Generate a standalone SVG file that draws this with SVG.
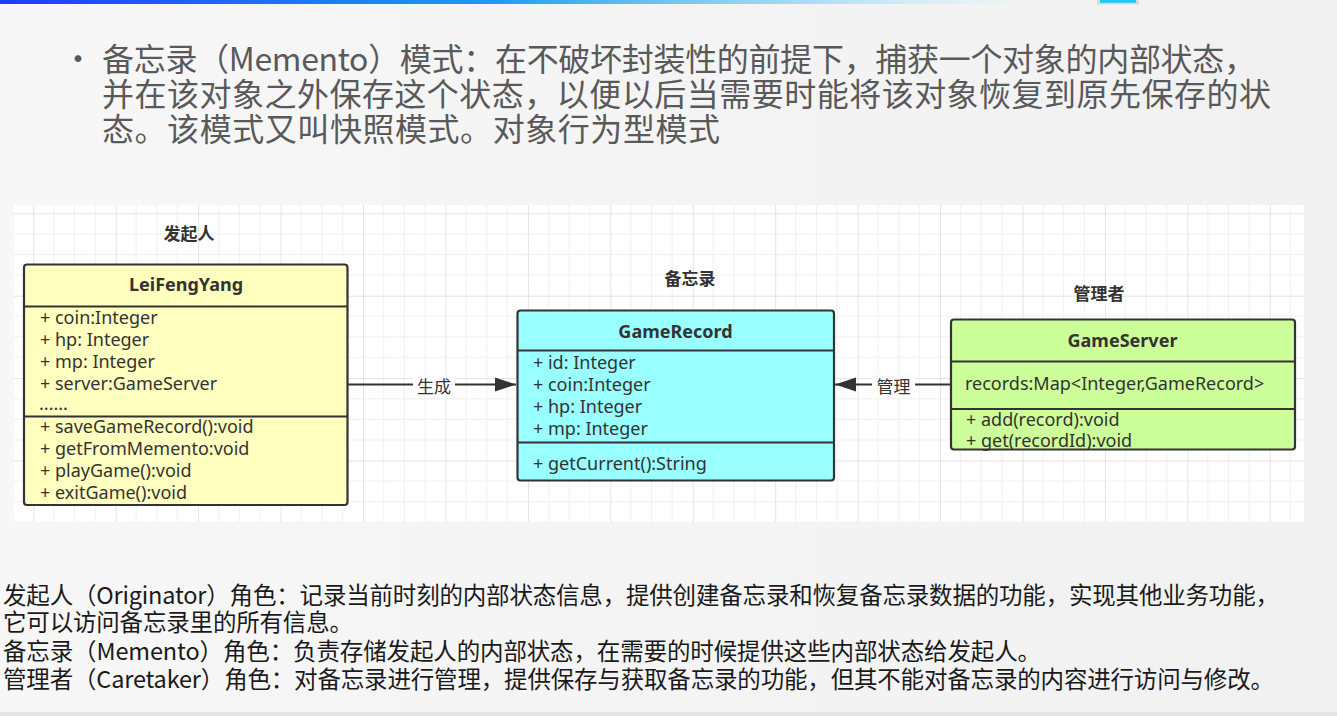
<svg xmlns="http://www.w3.org/2000/svg" width="1337" height="716" viewBox="0 0 1337 716">
<style>
.box{stroke:#333;stroke-width:2.2}
.div{stroke:#333;stroke-width:2.2}
.t{font-family:"Noto Sans","Liberation Sans",sans-serif;font-size:18px;fill:#333}
.title{font-weight:bold;text-anchor:middle}
.lbl{font-family:"Noto Sans CJK SC",sans-serif;font-size:17px;font-weight:bold;fill:#333;text-anchor:middle}
.edge{stroke:#333;stroke-width:2;fill:none}
.elbl{font-family:"Noto Sans CJK SC",sans-serif;font-size:17px;fill:#333;text-anchor:middle}
.head{font-family:"Noto Sans CJK SC",sans-serif;font-size:32px;fill:#595959}
.body{font-family:"Noto Sans CJK SC",sans-serif;font-size:23.5px;fill:#1a1a1a}
</style>
<defs>
<linearGradient id="bar" x1="0" y1="0" x2="1" y2="0">
<stop offset="0" stop-color="#1e3cff"/>
<stop offset="0.45" stop-color="#1c9cf0"/>
<stop offset="0.75" stop-color="#8fd8f5" stop-opacity="0.7"/>
<stop offset="1" stop-color="#ffffff" stop-opacity="0"/>
</linearGradient>
<linearGradient id="bg" x1="0" y1="0" x2="1" y2="0">
<stop offset="0" stop-color="#f7f7f7"/>
<stop offset="1" stop-color="#f1f1f1"/>
</linearGradient>
<pattern id="grid" x="33.3" y="213.3" width="82.43" height="82.4" patternUnits="userSpaceOnUse">
<path d="M20.6 0V82.4M41.2 0V82.4M61.8 0V82.4M0 20.6H82.43M0 41.2H82.43M0 61.8H82.43" stroke="#efefef" stroke-width="1"/>
<path d="M0.5 0V82.4M0 0.5H82.43" stroke="#e3e3e3" stroke-width="1"/>
</pattern>
<marker id="arr" markerUnits="userSpaceOnUse" markerWidth="22" markerHeight="16" refX="21" refY="7.5" orient="auto">
<path d="M0,0.5 L21,7.5 L0,14.5 z" fill="#333"/>
</marker>
</defs>

<rect x="0" y="0" width="1337" height="716" fill="url(#bg)"/>
<rect x="0" y="712" width="1337" height="4" fill="#e6e6e6"/>
<rect x="0" y="0" width="1100" height="4" fill="url(#bar)"/>
<rect x="1097" y="0" width="42" height="4.5" fill="#d9d9d9"/>
<rect x="1100" y="0" width="36" height="2.8" fill="#1ec8f5"/>

<g id="heading">
<text class="head" x="78" y="71" font-size="26" text-anchor="middle">•</text>
<text class="head"><tspan x="102" y="71" textLength="1154" lengthAdjust="spacing">备忘录（Memento）模式：在不破坏封装性的前提下，捕获一个对象的内部状态，</tspan><tspan x="102" y="106" textLength="1169" lengthAdjust="spacing">并在该对象之外保存这个状态，以便以后当需要时能将该对象恢复到原先保存的状</tspan><tspan x="102" y="141" textLength="618" lengthAdjust="spacing">态。该模式又叫快照模式。对象行为型模式</tspan></text>
</g>

<rect x="14" y="205" width="1290" height="317" fill="#ffffff"/>
<rect x="14" y="205" width="1290" height="317" fill="url(#grid)"/>

<g id="labels">
<text class="lbl" x="189" y="239.5">发起人</text>
<text class="lbl" x="690" y="284.5">备忘录</text>
<text class="lbl" x="1099" y="299.5">管理者</text>
</g>

<g id="connectors">
<line class="edge" x1="348" y1="384.5" x2="516" y2="384.5" marker-end="url(#arr)"/>
<rect x="413" y="375" width="42" height="21" fill="#ffffff"/>
<text class="elbl" x="434" y="392.5">生成</text>
<line class="edge" x1="950" y1="384.5" x2="835" y2="384.5" marker-end="url(#arr)"/>
<rect x="872" y="375" width="43" height="21" fill="#ffffff"/>
<text class="elbl" x="893.5" y="392.5">管理</text>
</g>

<g id="LeiFengYang">
<rect x="24" y="264.5" width="323.5" height="240.5" rx="3" fill="#ffffc0"/>
<text class="t title" x="186" y="291">LeiFengYang</text>
<text class="t" x="40" y="324">+ coin:Integer</text>
<text class="t" x="40" y="346">+ hp: Integer</text>
<text class="t" x="40" y="368">+ mp: Integer</text>
<text class="t" x="40" y="390">+ server:GameServer</text>
<text class="t" x="39" y="410">......</text>
<text class="t" x="40" y="433">+ saveGameRecord():void</text>
<text class="t" x="40" y="455">+ getFromMemento:void</text>
<text class="t" x="40" y="477">+ playGame():void</text>
<text class="t" x="40" y="499">+ exitGame():void</text>
<line class="div" x1="24" y1="306.5" x2="347.5" y2="306.5"/>
<line class="div" x1="24" y1="416.5" x2="347.5" y2="416.5"/>
<rect class="box" x="24" y="264.5" width="323.5" height="240.5" rx="3" fill="none"/>
</g>

<g id="GameRecord">
<rect x="517.5" y="310.5" width="316.5" height="170" rx="3" fill="#99ffff"/>
<text class="t title" x="675.5" y="338">GameRecord</text>
<text class="t" x="533" y="369">+ id: Integer</text>
<text class="t" x="533" y="391">+ coin:Integer</text>
<text class="t" x="533" y="413">+ hp: Integer</text>
<text class="t" x="533" y="435">+ mp: Integer</text>
<text class="t" x="533" y="469.5">+ getCurrent():String</text>
<line class="div" x1="517.5" y1="350.5" x2="834" y2="350.5"/>
<line class="div" x1="517.5" y1="442.5" x2="834" y2="442.5"/>
<rect class="box" x="517.5" y="310.5" width="316.5" height="170" rx="3" fill="none"/>
</g>

<g id="GameServer">
<rect x="951" y="319.5" width="344" height="130" rx="3" fill="#ccff99"/>
<text class="t title" x="1122.5" y="347">GameServer</text>
<text class="t" x="965" y="389.5">records:Map&lt;Integer,GameRecord&gt;</text>
<text class="t" x="966" y="426">+ add(record):void</text>
<text class="t" x="966" y="447">+ get(recordId):void</text>
<line class="div" x1="951" y1="361.5" x2="1295" y2="361.5"/>
<line class="div" x1="951" y1="409" x2="1295" y2="409"/>
<rect class="box" x="951" y="319.5" width="344" height="130" rx="3" fill="none"/>
</g>

<g id="description">
<text class="body"><tspan x="3" y="603.5" textLength="1276" lengthAdjust="spacing">发起人（Originator）角色：记录当前时刻的内部状态信息，提供创建备忘录和恢复备忘录数据的功能，实现其他业务功能，</tspan><tspan x="3" y="631" textLength="350" lengthAdjust="spacing">它可以访问备忘录里的所有信息。</tspan><tspan x="3" y="660" textLength="1038" lengthAdjust="spacing">备忘录（Memento）角色：负责存储发起人的内部状态，在需要的时候提供这些内部状态给发起人。</tspan><tspan x="3" y="687.5" textLength="1271" lengthAdjust="spacing">管理者（Caretaker）角色：对备忘录进行管理，提供保存与获取备忘录的功能，但其不能对备忘录的内容进行访问与修改。</tspan></text>
</g>
</svg>
